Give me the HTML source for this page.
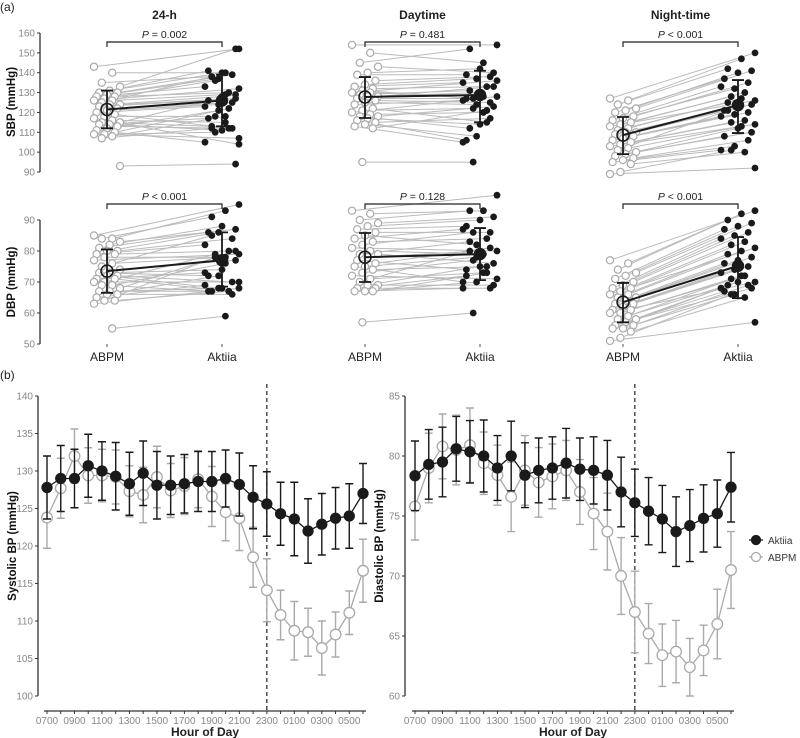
<!DOCTYPE html>
<html><head><meta charset="utf-8"><style>
html,body{margin:0;padding:0;background:#fff;}
svg{display:block;font-family:"Liberation Sans",Arial,sans-serif;}
</style></head><body>
<svg id="fig" width="800" height="738" viewBox="0 0 800 738" xmlns="http://www.w3.org/2000/svg">
<text x="0" y="11" font-size="12" fill="#222">(a)</text>
<text x="0" y="379" font-size="12" fill="#222">(b)</text>
<g id="pa"></g>
<g id="pb"></g>
</svg>
<script>
// ---------- Panel (a) data ----------
const colTitles = ["24-h","Daytime","Night-time"];
const sbpP = ["= 0.002","= 0.481","< 0.001"];
const dbpP = ["< 0.001","= 0.128","< 0.001"];
const sbpAbpm24 = [143,140,135,133,131,130,130,129,128,128,127,126,126,125,124,124,123,122,121,120,119,118,117,116,115,115,114,114,113,112,111,110,109,109,108,107,93];
const sbpAkt24  = [152,140,138,152,140,141,139,137,133,130,136,132,129,138,127,128,126,125,124,123,112,118,104,115,113,129,111,117,112,121,105,122,110,107,118,112,94];
const dbpAbpm24 = [85,84,84,83,82,81,80,80,79,79,78,77,76,75,74,73,73,72,72,71,71,70,70,69,69,68,67,67,66,66,65,64,64,63,55];
const dbpAkt24  = [95,93,91,87,88,86,84,86,82,80,78,79,78,85,77,74,72,70,68,73,67,79,70,76,67,80,68,67,66,72,69,67,78,68,59];
const sbpAbpmDay = [154,150,145,143,140,139,136,134,133,132,131,130,130,129,128,128,127,126,125,124,122,121,120,119,118,118,117,116,115,114,113,112,95];
const sbpAktDay  = [154,145,152,140,142,139,138,137,135,133,127,136,128,131,133,130,127,125,124,126,115,122,128,120,112,123,114,106,117,108,105,121,95];
const dbpAbpmDay = [93,92,90,89,88,87,86,85,84,83,82,81,80,79,79,78,77,76,75,75,74,73,72,71,70,69,69,68,68,67,67,67,57];
const dbpAktDay  = [98,93,93,91,90,88,86,82,87,84,86,80,79,83,76,80,74,81,78,70,75,77,71,73,80,69,75,72,68,70,68,73,60];
const sbpAbpmNight = [127,126,124,122,121,120,118,117,116,115,114,113,112,111,110,110,109,108,107,106,105,104,103,102,101,100,99,98,97,96,95,94,90,89];
const sbpAktNight  = [150,147,142,141,140,137,135,132,133,130,128,126,127,125,124,123,121,120,119,118,116,115,114,113,121,110,112,108,106,103,101,100,101,92];
const dbpAbpmNight = [77,76,74,73,72,71,70,69,68,68,67,66,66,65,65,64,63,63,62,61,61,60,60,59,58,58,57,56,56,55,55,54,52,51];
const dbpAktNight  = [93,92,90,89,88,87,86,85,84,83,82,81,80,79,78,77,76,75,74,73,72,71,70,72,69,68,70,67,69,66,68,65,66,57];
// summary: [mean, lower, upper]
const sbpSumAbpm = [[121.5,112,131],[127.8,117.2,137.8],[108.6,99,117.7]];
const sbpSumAkt  = [[126,113,139],[128.8,115,141],[123.7,109.6,136.3]];
const dbpSumAbpm = [[73.5,66.5,80.5],[78,70,85.8],[63.5,57,69.7]];
const dbpSumAkt  = [[77,68.5,86],[79,70.6,87.4],[75.2,64.8,84.5]];
const sbpTicks = [90,100,110,120,130,140,150,160];
const dbpTicks = [50,60,70,80,90];

// ---------- Panel (b) data ----------
const hourLabels = ["0700","0900","1100","1300","1500","1700","1900","2100","2300","0100","0300","0500"];
const sysAkt = [127.8,129,129,130.7,130,129.3,128.3,129.7,128.1,128.1,128.3,128.6,128.6,129,128.2,126.5,125.6,124.3,123.6,122,122.9,123.7,124,127];
const sysAktErr = [4.2,4.4,3.9,4.2,3.9,4.5,4.2,4.3,4.5,3.9,3.9,4,4,3.8,4.2,4.2,4.3,4.2,4.9,4.3,4.1,4.1,4.3,4];
const sysAbpm = [123.8,127.7,132,129.4,129.4,129.2,127.3,126.8,129.2,127.4,128,128.9,126.6,124.5,123.7,118.5,114.1,110.8,108.7,108.5,106.4,108.2,111.1,116.7];
const sysAbpmErr = [4.1,4,3.6,3.7,3.5,3.6,3.4,3.7,4.1,3.6,3.8,3.8,4,3.8,4.3,4,4.2,3.3,3.9,3.2,3.6,3,2.9,4.2];
const diaAkt = [78.35,79.3,79.5,80.6,80.35,80,79,80,78.4,78.8,79,79.4,78.9,78.8,78.4,77,76.1,75.4,74.75,73.7,74.2,74.8,75.2,77.4];
const diaAktErr = [2.9,2.9,2.9,2.7,2.6,3,2.7,2.9,2.7,2.7,2.6,2.9,2.6,2.8,2.9,2.9,2.8,2.8,2.8,2.9,3,2.8,2.8,2.9];
const diaAbpm = [75.8,79,80.8,80.5,80.9,79.4,78.4,76.6,78.8,77.8,78.3,78.8,77,75.2,73.7,70,67,65.2,63.4,63.7,62.4,63.8,66,70.5];
const diaAbpmErr = [2.8,2.9,2.7,2.9,3.1,2.6,2.5,2.9,2.9,2.9,2.7,2.5,2.7,3,3.2,3.2,3.4,2.5,2.6,2.6,2.4,2.1,2.9,3.2];
const sysTicks = [100,105,110,115,120,125,130,135,140];
const diaTicks = [60,65,70,75,80,85];

const NS="http://www.w3.org/2000/svg";
function mk(parent,tag,attrs,text){const e=document.createElementNS(NS,tag);for(const k in attrs)e.setAttribute(k,attrs[k]);if(text!==undefined)e.textContent=text;parent.appendChild(e);return e;}

// ===== Panel (a) =====
const pa=document.getElementById('pa');
const colX=[[107,222],[365,480],[623,738]];
const sbpY=v=>33+(160-v)*139/70;
const dbpY=v=>220+(90-v)*124/40;
function yAxisA(ticks,yf,title,cy){
  const ln=mk(pa,'line',{x1:40,x2:40,y1:yf(ticks[ticks.length-1]),y2:yf(ticks[0]),stroke:'#333','stroke-width':1.3});
  
  
  ticks.forEach(t=>{
    const tk=mk(pa,'line',{x1:37,x2:40,y1:yf(t),y2:yf(t),stroke:'#333'});
    
    
    const tl=mk(pa,'text',{x:35,y:yf(t)+3.5,'font-size':10,fill:'#888','text-anchor':'end'},t);
    
    
  });
  const tt=mk(pa,'text',{x:0,y:0,'font-size':11.5,'font-weight':'bold',fill:'#111','text-anchor':'middle',transform:`translate(15,${cy}) rotate(-90)`},title);
  
  
}
yAxisA(sbpTicks,sbpY,'SBP (mmHg)',102);
yAxisA(dbpTicks,dbpY,'DBP (mmHg)',282);

function jit(i,amp){return (((i*7)%11)-5)/5*amp;}
function pairPanel(c,abpm,akt,sumA,sumK,yf,pText,pY,brY,tag){
  const [xa,xk]=colX[c];
  const g=mk(pa,'g',{});
  
  
  for(let i=0;i<abpm.length;i++){
    const ja=jit(i,13), jk=jit(i+3,17);
    const l=mk(g,'line',{x1:xa+ja,y1:yf(abpm[i]),x2:xk+jk,y2:yf(akt[i]),stroke:'#bbb','stroke-width':1});
    
    
  }
  for(let i=0;i<abpm.length;i++){
    const ja=jit(i,13), jk=jit(i+3,17);
    const p=mk(g,'circle',{cx:xa+ja,cy:yf(abpm[i]),r:3.6,fill:'#fff',stroke:'#aaa','stroke-width':1.2});
    
    
    const q=mk(g,'circle',{cx:xk+jk,cy:yf(akt[i]),r:3.4,fill:'#1a1a1a'});
    
    
  }
  const ml=mk(g,'line',{x1:xa,y1:yf(sumA[0]),x2:xk,y2:yf(sumK[0]),stroke:'#1a1a1a','stroke-width':2});
  
  
  [[xa,sumA],[xk,sumK]].forEach(([x,s],k)=>{
    const e=mk(g,'path',{d:`M${x},${yf(s[1])}V${yf(s[2])}M${x-6},${yf(s[1])}H${x+6}M${x-6},${yf(s[2])}H${x+6}`,stroke:'#1a1a1a','stroke-width':1.8,fill:'none'});
    
    
    const m=mk(g,'circle',{cx:x,cy:yf(s[0]),r:k?5.5:6,fill:k?'#1a1a1a':'none',stroke:'#1a1a1a','stroke-width':1.5});
    
    
  });
  const br=mk(g,'path',{d:`M${xa},${brY+5}V${brY}H${xk}V${brY+5}`,stroke:'#222',fill:'none','stroke-width':1.2});
  
  
  const pt=mk(g,'text',{x:(xa+xk)/2,y:pY,'font-size':10.5,fill:'#222','text-anchor':'middle'});
  
  
  mk(pt,'tspan',{'font-style':'italic'},'P');
  mk(pt,'tspan',{},' '+pText);
}
const sets=[[sbpAbpm24,sbpAkt24,dbpAbpm24,dbpAkt24],[sbpAbpmDay,sbpAktDay,dbpAbpmDay,dbpAktDay],[sbpAbpmNight,sbpAktNight,dbpAbpmNight,dbpAktNight]];
for(let c=0;c<3;c++){
  const [xa,xk]=colX[c];
  const ct=mk(pa,'text',{x:(xa+xk)/2,y:19,'font-size':12,'font-weight':'bold',fill:'#222','text-anchor':'middle'},colTitles[c]);
  
  
  pairPanel(c,sets[c][0],sets[c][1],sbpSumAbpm[c],sbpSumAkt[c],sbpY,sbpP[c],38,42,'sbp');
  pairPanel(c,sets[c][2],sets[c][3],dbpSumAbpm[c],dbpSumAkt[c],dbpY,dbpP[c],200,204,'dbp');
  [['ABPM',xa],['Aktiia',xk]].forEach(([lab,x])=>{
    const tk=mk(pa,'line',{x1:x,x2:x,y1:344,y2:347,stroke:'#555'});
    
    
    const tl=mk(pa,'text',{x:x,y:361,'font-size':12,fill:'#222','text-anchor':'middle'},lab);
    
    
  });
}

// ===== Panel (b) =====
const pb=document.getElementById('pb');
function hourPanel(ax,x0,ticks,ymin,ymax,title,akt,aktE,abpm,abpmE,tag){
  const y=v=>396+(ymax-v)*300/(ymax-ymin);
  const step=13.74;
  const x=i=>x0+i*step;
  const g=mk(pb,'g',{});
  
  
  const yl=mk(g,'line',{x1:ax,x2:ax,y1:y(ymax),y2:y(ymin),stroke:'#333','stroke-width':1.3});
  
  
  ticks.forEach(t=>{
    const tk=mk(g,'line',{x1:ax-3,x2:ax,y1:y(t),y2:y(t),stroke:'#333'});
    
    
    const tl=mk(g,'text',{x:ax-5,y:y(t)+3.5,'font-size':10,fill:'#888','text-anchor':'end'},t);
    
    
  });
  const xl=mk(g,'line',{x1:x(0)-3,x2:x(23)+3,y1:711,y2:711,stroke:'#333','stroke-width':1.3});
  
  
  for(let i=0;i<24;i++){
    const tk=mk(g,'line',{x1:x(i),x2:x(i),y1:711,y2:714,stroke:'#333'});
    
    
  }
  hourLabels.forEach((h,k)=>{
    const tl=mk(g,'text',{x:x(k*2),y:724,'font-size':10,fill:'#888','text-anchor':'middle'},h);
    
    
  });
  const xt=mk(g,'text',{x:(x(0)+x(23))/2,y:736,'font-size':12,'font-weight':'bold',fill:'#222','text-anchor':'middle'},'Hour of Day');
  
  
  const yt=mk(g,'text',{x:0,y:0,'font-size':11.5,'font-weight':'bold',fill:'#111','text-anchor':'middle',transform:`translate(${ax-22},546) rotate(-90)`},title);
  
  
  const dl=mk(g,'line',{x1:x(16),x2:x(16),y1:384,y2:711,stroke:'#222','stroke-width':1.2,'stroke-dasharray':'4,3'});
  
  
  function series(vals,errs,col,filled,name){
    const sg=mk(g,'g',{});
    
    
    vals.forEach((v,i)=>{
      const e=mk(sg,'path',{d:`M${x(i)},${y(v-errs[i])}V${y(v+errs[i])}M${x(i)-4},${y(v-errs[i])}H${x(i)+4}M${x(i)-4},${y(v+errs[i])}H${x(i)+4}`,stroke:col,'stroke-width':1.4,fill:'none'});
      
      
    });
    const ln=mk(sg,'polyline',{points:vals.map((v,i)=>x(i)+','+y(v)).join(' '),fill:'none',stroke:col,'stroke-width':1.3});
    
    
    vals.forEach((v,i)=>{
      const c=mk(sg,'circle',{cx:x(i),cy:y(v),r:filled?5:5.3,fill:filled?col:'#fff',stroke:col,'stroke-width':1.3});
      
      
    });
  }
  series(abpm,abpmE,'#aaa',false,'abpm');
  series(akt,aktE,'#1a1a1a',true,'aktiia');
}
hourPanel(38,47,sysTicks,100,140,'Systolic BP (mmHg)',sysAkt,sysAktErr,sysAbpm,sysAbpmErr,'systolic');
hourPanel(405,415,diaTicks,60,85,'Diastolic BP (mmHg)',diaAkt,diaAktErr,diaAbpm,diaAbpmErr,'diastolic');

// legend
const lg=mk(pb,'g',{});


[['Aktiia',540,'#1a1a1a',true],['ABPM',557,'#aaa',false]].forEach(([lab,yy,col,f])=>{
  const eg=mk(lg,'g',{});
  
  
  mk(eg,'line',{x1:749,x2:763,y1:yy,y2:yy,stroke:col,'stroke-width':1.3});
  mk(eg,'circle',{cx:756,cy:yy,r:4.5,fill:f?col:'#fff',stroke:col,'stroke-width':1.3});
  mk(eg,'text',{x:768,y:yy+4,'font-size':10,fill:'#333'},lab);
});
</script>
</body></html>
